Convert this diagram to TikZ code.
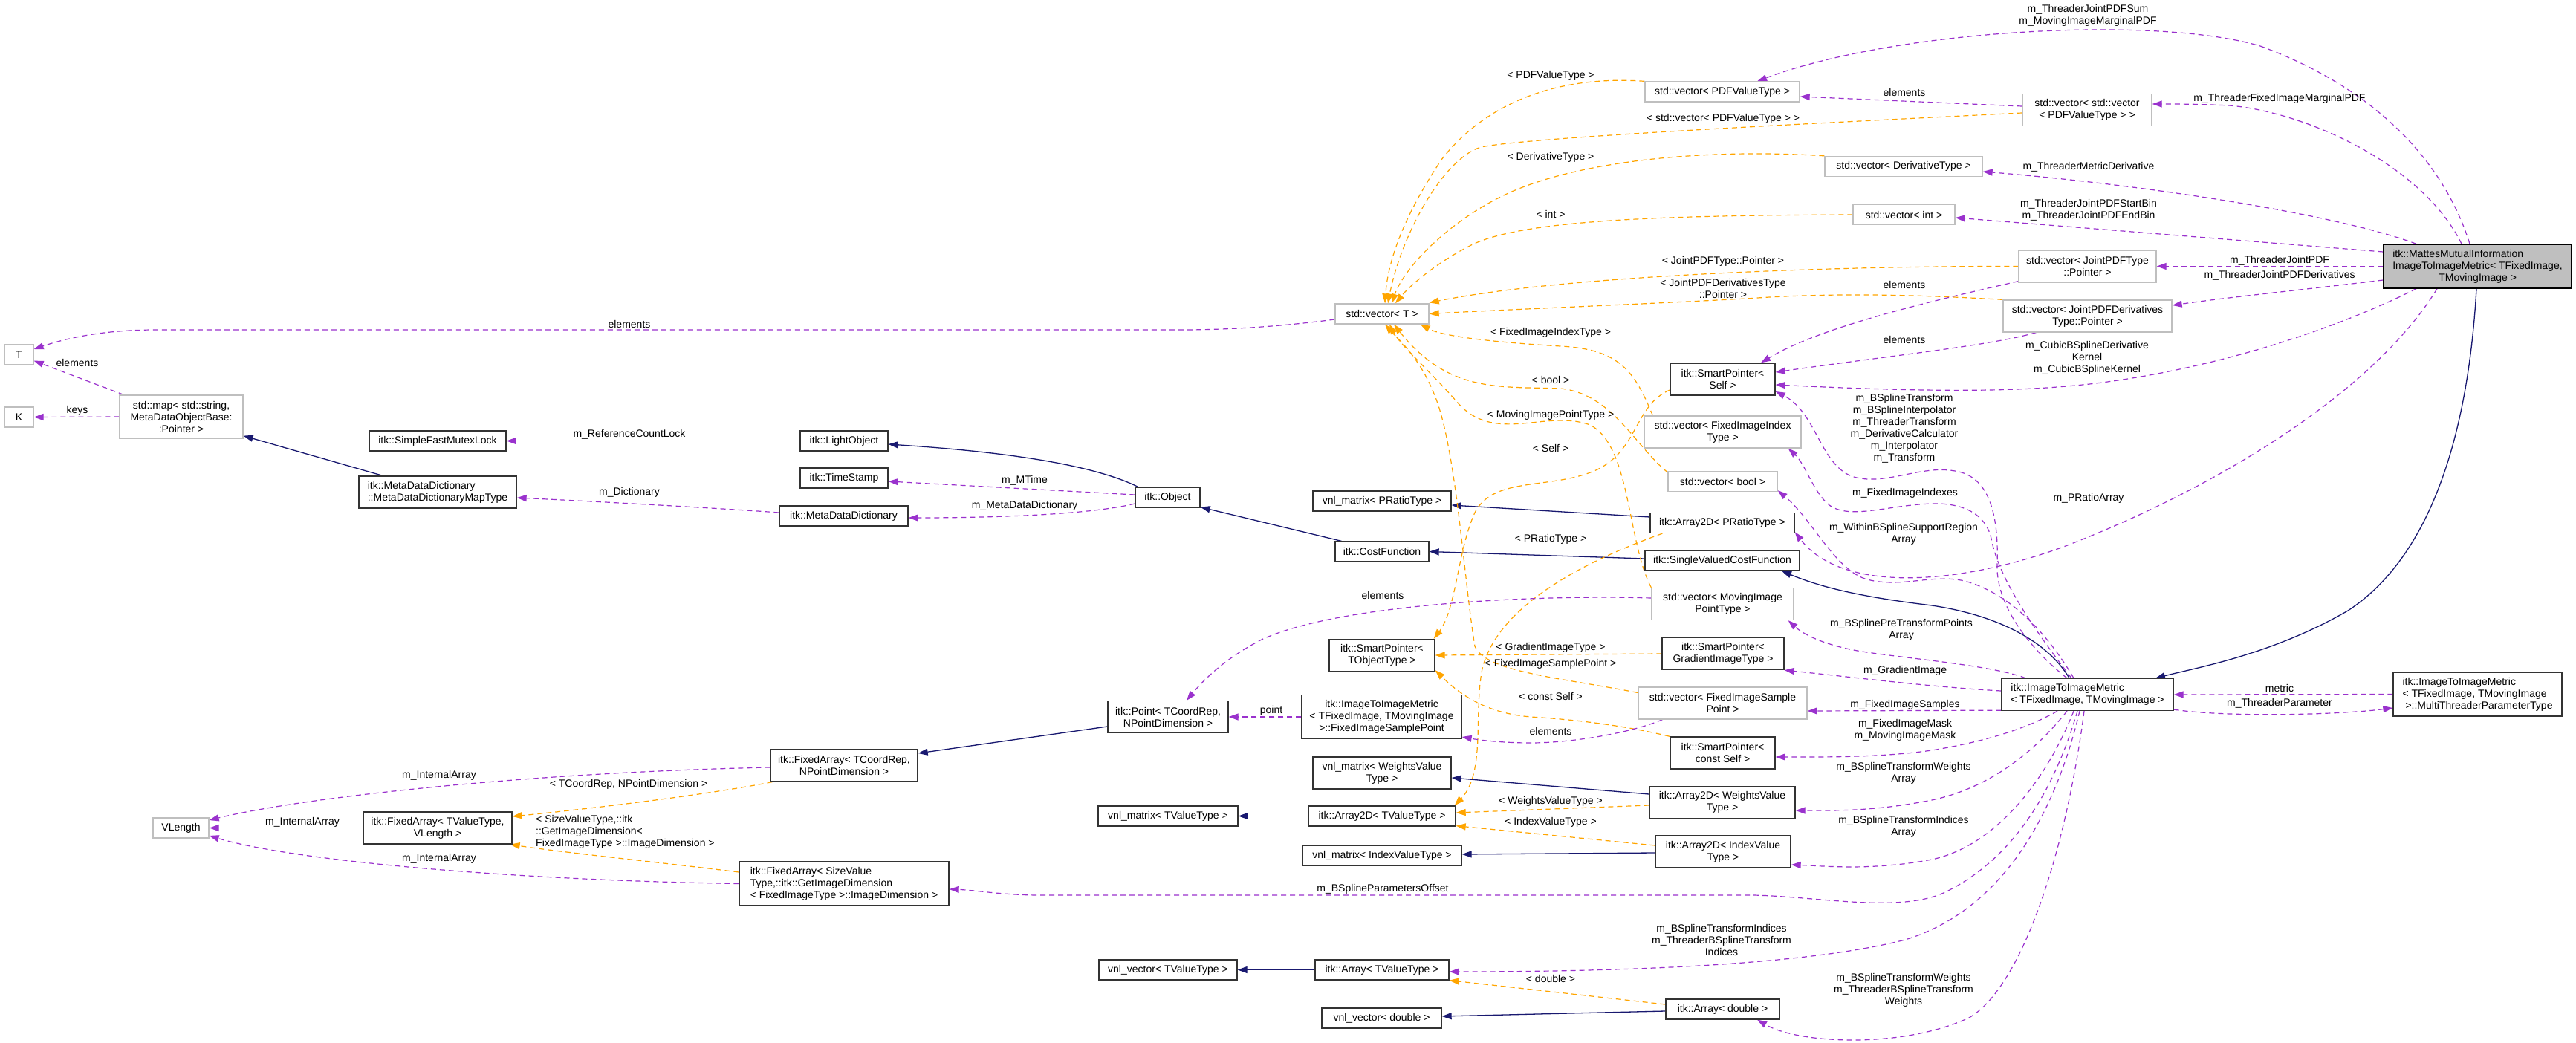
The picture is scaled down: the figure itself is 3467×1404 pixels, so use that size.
\documentclass[tikz,border=0pt]{standalone}
\usepackage{fontspec}
\setmainfont{Liberation Sans}
\usetikzlibrary{arrows.meta}
\definecolor{usec}{HTML}{9A32CD}
\definecolor{tmplc}{HTML}{FFA500}
\definecolor{inhc}{HTML}{191970}
\definecolor{ubord}{HTML}{BFBFBF}
\definecolor{hilite}{HTML}{BFBFBF}
\pgfdeclarelayer{bg}
\pgfsetlayers{bg,main}
\tikzset{
  box/.style={draw=black!80, line width=1.3pt, fill=white, inner sep=2pt, align=center, text=black},
  ubox/.style={box, draw=ubord},
  lbl/.style={inner sep=0pt, align=center, text=black},
  uses/.style={draw=usec, line width=1.2pt, dash pattern=on 7pt off 5pt, -{Triangle[length=13pt,width=9pt]}},
  tmpl/.style={draw=tmplc, line width=1.2pt, dash pattern=on 7pt off 5pt, -{Triangle[length=13pt,width=9pt]}},
  inh/.style={draw=inhc, line width=1.3pt, -{Triangle[length=13pt,width=9pt]}},
}
\begin{document}
\begin{tikzpicture}[x=1pt,y=-1pt,font=\fontsize{14pt}{16pt}\selectfont]
\begin{pgfonlayer}{bg}
\fill[white] (0,0) rectangle (3467,1404);
\end{pgfonlayer}
\useasboundingbox (0,0) rectangle (3467,1404);

% ---------- nodes ----------
\node[ubox, minimum width=39pt, minimum height=27pt] (T) at (25.5,477.5) {T};
\node[ubox, minimum width=39pt, minimum height=27pt] (K) at (25.5,561.5) {K};
\node[ubox, minimum width=166pt, minimum height=58pt] (map) at (244,561) {std::map< std::string,\\MetaDataObjectBase:\\:Pointer >};
\node[box, minimum width=184pt, minimum height=27pt] (SFML) at (589,593.5) {itk::SimpleFastMutexLock};
\node[box, align=left, minimum width=212pt, minimum height=43pt] (MapType) at (589,662.5) {itk::MetaDataDictionary\\::MetaDataDictionaryMapType};
\node[ubox, minimum width=75pt, minimum height=27pt] (VLength) at (243.5,1114.5) {VLength};
\node[box, minimum width=200pt, minimum height=43pt] (FATV) at (589,1114.5) {itk::FixedArray< TValueType,\\VLength >};
\node[box, minimum width=198pt, minimum height=43pt] (FATC) at (1136,1030.5) {itk::FixedArray< TCoordRep,\\NPointDimension >};
\node[box, align=left, minimum width=282pt, minimum height=59pt] (FASV) at (1136,1189.5) {itk::FixedArray< SizeValue\\Type,::itk::GetImageDimension\\< FixedImageType >::ImageDimension >};
\node[box, minimum width=118pt, minimum height=27pt] (LightObject) at (1136,593.5) {itk::LightObject};
\node[box, minimum width=118pt, minimum height=27pt] (TimeStamp) at (1136,643.5) {itk::TimeStamp};
\node[box, minimum width=173pt, minimum height=27pt] (MDD) at (1135.5,694.5) {itk::MetaDataDictionary};
\node[box, minimum width=87pt, minimum height=27pt] (Object) at (1571.5,669.5) {itk::Object};
\node[box, minimum width=126pt, minimum height=27pt] (CostFunction) at (1860,742.5) {itk::CostFunction};
\node[box, minimum width=186pt, minimum height=27pt] (vnlMP) at (1860,674.5) {vnl\_matrix< PRatioType >};
\node[box, minimum width=142pt, minimum height=43pt] (SPT) at (1860,882) {itk::SmartPointer<\\TObjectType >};
\node[box, minimum width=162pt, minimum height=43pt] (Point) at (1572,965) {itk::Point< TCoordRep,\\NPointDimension >};
\node[box, minimum width=215pt, minimum height=59pt] (FISP) at (1859.5,965) {itk::ImageToImageMetric\\< TFixedImage, TMovingImage\\>::FixedImageSamplePoint};
\node[box, minimum width=186pt, minimum height=43pt] (vnlMW) at (1860,1040.5) {vnl\_matrix< WeightsValue\\Type >};
\node[box, minimum width=188pt, minimum height=27pt] (vnlMT) at (1572,1098.5) {vnl\_matrix< TValueType >};
\node[box, minimum width=198pt, minimum height=27pt] (A2T) at (1860,1098.5) {itk::Array2D< TValueType >};
\node[box, minimum width=214pt, minimum height=27pt] (vnlMI) at (1860,1152) {vnl\_matrix< IndexValueType >};
\node[box, minimum width=186pt, minimum height=27pt] (vnlVT) at (1572,1305.5) {vnl\_vector< TValueType >};
\node[box, minimum width=180pt, minimum height=27pt] (AT) at (1860,1305.5) {itk::Array< TValueType >};
\node[box, minimum width=161pt, minimum height=27pt] (vnlVD) at (1859.5,1370.5) {vnl\_vector< double >};
\node[box, minimum width=153pt, minimum height=27pt] (AD) at (2318.5,1358.5) {itk::Array< double >};
\node[ubox, minimum width=126pt, minimum height=27pt] (vecT) at (1860,422.5) {std::vector< T >};
\node[ubox, minimum width=208pt, minimum height=27pt] (vPDF) at (2318,123.5) {std::vector< PDFValueType >};
\node[ubox, minimum width=212pt, minimum height=27pt] (vDer) at (2562,224) {std::vector< DerivativeType >};
\node[ubox, minimum width=137pt, minimum height=27pt] (vInt) at (2562.5,289) {std::vector< int >};
\node[ubox, minimum width=174pt, minimum height=43pt] (vvPDF) at (2809,148) {std::vector< std::vector\\< PDFValueType > >};
\node[ubox, minimum width=185pt, minimum height=43pt] (vJP) at (2809.5,358.5) {std::vector< JointPDFType\\::Pointer >};
\node[ubox, minimum width=227pt, minimum height=43pt] (vJPD) at (2809.5,425.5) {std::vector< JointPDFDerivatives\\Type::Pointer >};
\node[box, fill=hilite, draw=black, align=left, minimum width=253pt, minimum height=59pt] (Mattes) at (3334.5,358.5) {itk::MattesMutualInformation\\ImageToImageMetric< TFixedImage,\\\hspace*{62pt}TMovingImage >};
\node[box, minimum width=141pt, minimum height=43pt] (SPS) at (2318.5,510.5) {itk::SmartPointer<\\Self >};
\node[ubox, minimum width=211pt, minimum height=43pt] (vFII) at (2318.5,581.5) {std::vector< FixedImageIndex\\Type >};
\node[ubox, minimum width=147pt, minimum height=27pt] (vBool) at (2318.5,648) {std::vector< bool >};
\node[box, minimum width=194pt, minimum height=27pt] (A2P) at (2318,704) {itk::Array2D< PRatioType >};
\node[box, minimum width=208pt, minimum height=27pt] (SVCF) at (2318,754.5) {itk::SingleValuedCostFunction};
\node[ubox, minimum width=191pt, minimum height=43pt] (vMIP) at (2318.5,813) {std::vector< MovingImage\\PointType >};
\node[box, minimum width=164pt, minimum height=43pt] (SPG) at (2319,880) {itk::SmartPointer<\\GradientImageType >};
\node[ubox, minimum width=227pt, minimum height=43pt] (vFIS) at (2318.5,946.5) {std::vector< FixedImageSample\\Point >};
\node[box, minimum width=141pt, minimum height=43pt] (SPC) at (2318.5,1013.5) {itk::SmartPointer<\\const Self >};
\node[box, minimum width=196pt, minimum height=43pt] (A2W) at (2318,1080) {itk::Array2D< WeightsValue\\Type >};
\node[box, minimum width=182pt, minimum height=43pt] (A2I) at (2319,1146.5) {itk::Array2D< IndexValue\\Type >};
\node[box, align=left, minimum width=231pt, minimum height=43pt] (ITIM) at (2809.5,935) {itk::ImageToImageMetric\\< TFixedImage, TMovingImage >};
\node[box, align=left, minimum width=227pt, minimum height=59pt] (Multi) at (3334.5,934.5) {itk::ImageToImageMetric\\< TFixedImage, TMovingImage\\\hspace*{4pt}>::MultiThreaderParameterType};

% ---------- edges ----------
\begin{pgfonlayer}{bg}
% left part
\draw[uses] ([yshift=-7.5pt]vecT.west) .. controls (1720,440) and (1650,444) .. (1591,444) -- (210,444) .. controls (140,444) and (90,455) .. ([yshift=7.5pt]T.east);
\draw[uses] ([xshift=6pt]map.north west) -- ([yshift=6pt]T.south east);
\draw[uses] (map.west) -- (K.east);
\draw[inh] ([xshift=-74pt]MapType.north) -- ([yshift=4pt]map.south east);
\draw[uses] (LightObject.west) -- (SFML.east);
\draw[uses] ([yshift=4.5pt]MDD.west) .. controls (950,683) and (800,675) .. ([yshift=-7.5pt]MapType.east);
\draw[inh] ([xshift=-40pt]Object.north) .. controls (1470,625) and (1350,608) .. ([yshift=-4.5pt]LightObject.east);
\draw[uses] ([yshift=3.5pt]Object.west) -- ([yshift=-4.5pt]TimeStamp.east);
\draw[uses] ([yshift=-8.5pt]Object.west) .. controls (1470,692) and (1350,697) .. ([yshift=-2.5pt]MDD.east);
\draw[inh] ([xshift=9pt]CostFunction.north west) -- ([yshift=1pt]Object.south east);
\draw[inh] ([yshift=2.5pt]SVCF.west) -- (CostFunction.east);
\draw[inh] ([xshift=-24.5pt]ITIM.north) .. controls (2760,870) and (2700,830) .. (2600,815) .. controls (2500,803) and (2450,790) .. ([xshift=80pt]SVCF.south);
\draw[inh] ([xshift=-1.5pt]Mattes.south) .. controls (3318,650) and (3240,770) .. (3160,822) .. controls (3060,880) and (2960,898) .. ([xshift=91.5pt]ITIM.north);
\draw[inh] ([yshift=8pt]A2P.west) -- ([yshift=-5.5pt]vnlMP.east);
\draw[inh] ([yshift=11pt]A2W.west) -- ([yshift=-6.5pt]vnlMW.east);
\draw[inh] (A2T.west) -- (vnlMT.east);
\draw[inh] ([yshift=-1.5pt]A2I.west) -- ([yshift=2pt]vnlMI.east);
\draw[inh] (AT.west) -- (vnlVT.east);
\draw[inh] ([yshift=-2.5pt]AD.west) -- ([yshift=2.5pt]vnlVD.east);
\draw[inh] ([yshift=-13pt]Point.west) -- ([yshift=16.5pt]FATC.east);
% template instantiations
\draw[tmpl] ([xshift=3pt]FATC.south west) .. controls (950,1070) and (800,1088) .. ([yshift=15.5pt]FATV.east);
\draw[tmpl] ([yshift=15.5pt]FASV.west) .. controls (900,1162) and (760,1148) .. ([xshift=-3pt]FATV.south east);
\draw[tmpl] ([yshift=-14.5pt]SPS.west) .. controls (2200,545) and (2205,605) .. (2150,632) .. controls (2090,660) and (2010,640) .. (1985,690) .. controls (1962,740) and (1960,820) .. ([xshift=-2pt]SPT.north east);
\draw[tmpl] (SPG.west) -- (SPT.east);
\draw[tmpl] (SPC.north west) .. controls (2180,975) and (2110,968) .. (2060,965) .. controls (2000,960) and (1965,935) .. ([yshift=2pt]SPT.south east);
\draw[tmpl] ([xshift=17pt]A2P.south west) .. controls (2120,760) and (2015,820) .. (1995,900) .. controls (1983,960) and (2000,1040) .. ([xshift=-2pt]A2T.north east);
\draw[tmpl] ([yshift=-4pt]A2W.west) -- ([yshift=4.5pt]A2T.east);
\draw[tmpl] ([yshift=8.5pt]A2I.west) -- ([yshift=1pt]A2T.south east);
\draw[tmpl] ([yshift=6.5pt]AD.west) -- (AT.south east);
\draw[tmpl] (vPDF.north west) .. controls (2080,100) and (1990,150) .. (1940,215) .. controls (1890,290) and (1868,350) .. ([xshift=4pt]vecT.north);
\draw[tmpl] ([yshift=-4pt]vvPDF.west) .. controls (2400,168) and (2060,185) .. (1993,198) .. controls (1940,215) and (1885,320) .. ([xshift=8pt]vecT.north);
\draw[tmpl] (vDer.north west) .. controls (2300,200) and (2130,215) .. (2030,260) .. controls (1950,297) and (1890,360) .. ([xshift=13pt]vecT.north);
\draw[tmpl] (vInt.west) .. controls (2250,290) and (2050,295) .. (1980,330) .. controls (1925,358) and (1893,390) .. ([xshift=18pt]vecT.north);
\draw[tmpl] (vJP.west) .. controls (2450,358) and (2100,372) .. ([yshift=15pt]vecT.east);
\draw[tmpl] (vJPD.north west) .. controls (2550,395) and (2450,395) .. (2350,402) .. controls (2200,410) and (2000,418) .. (vecT.east);
\draw[tmpl] ([xshift=12pt]vFII.north west) .. controls (2200,500) and (2180,470) .. (2100,466) .. controls (2000,460) and (1940,452) .. ([xshift=-12pt]vecT.south east);
\draw[tmpl] ([yshift=-2pt]vBool.north west) .. controls (2200,600) and (2170,530) .. (2100,523) .. controls (2020,520) and (1950,530) .. ([xshift=16pt]vecT.south);
\draw[tmpl] (vMIP.north west) .. controls (2190,730) and (2195,600) .. (2140,572) .. controls (2080,550) and (2010,600) .. (1960,540) .. controls (1925,500) and (1885,465) .. ([xshift=10pt]vecT.south);
\draw[tmpl] ([yshift=14pt]vFIS.west) .. controls (2100,912) and (2000,905) .. (1985,870) .. controls (1970,780) and (1960,600) .. (1930,530) .. controls (1910,480) and (1880,455) .. ([xshift=4pt]vecT.south);
% usage from Mattes
\draw[uses] ([xshift=-10.5pt]Mattes.north) .. controls (3290,220) and (3200,120) .. (3042,62) .. controls (2900,20) and (2550,40) .. ([xshift=47pt]vPDF.north);
\draw[uses] ([xshift=-21.5pt]Mattes.north) .. controls (3260,220) and (3100,150) .. (3000,142) .. controls (2960,140) and (2930,140) .. ([yshift=8pt]vvPDF.east);
\draw[uses] ([xshift=-82.5pt]Mattes.north) .. controls (3150,290) and (2900,250) .. ([yshift=-7pt]vDer.east);
\draw[uses] ([yshift=19.5pt]Mattes.west) -- ([yshift=-4pt]vInt.east);
\draw[uses] (Mattes.west) -- (vJP.east);
\draw[uses] ([yshift=-18.5pt]Mattes.west) .. controls (3100,390) and (3000,400) .. ([yshift=14.5pt]vJPD.east);
\draw[uses] ([yshift=5pt]vvPDF.west) -- ([yshift=-6.5pt]vPDF.east);
\draw[uses] ([yshift=2pt]vJP.south west) .. controls (2600,405) and (2450,440) .. ([xshift=51.5pt]SPS.north);
\draw[uses] ([xshift=45pt]vJPD.south west) .. controls (2680,465) and (2550,478) .. ([yshift=9.5pt]SPS.east);
\draw[uses] ([xshift=-82.5pt]Mattes.south) .. controls (3150,440) and (2990,495) .. (2821,516) .. controls (2720,528) and (2600,528) .. ([yshift=-7.5pt]SPS.east);
\draw[uses] ([xshift=-54.5pt]Mattes.south) .. controls (3200,520) and (3000,650) .. (2780,735) .. controls (2640,787) and (2480,800) .. ([yshift=2pt]A2P.south east);
% usage from ImageToImageMetric
\draw[uses] ([xshift=-27.5pt]ITIM.north) .. controls (2740,880) and (2686,820) .. (2688,760) .. controls (2690,700) and (2680,648) .. (2640,636) .. controls (2590,622) and (2540,655) .. (2495,642) .. controls (2450,628) and (2445,555) .. ([yshift=-16.5pt]SPS.east);
\draw[uses] ([xshift=-21.5pt]ITIM.north) .. controls (2740,850) and (2690,780) .. (2680,725) .. controls (2672,690) and (2640,677) .. (2600,678) .. controls (2540,680) and (2490,700) .. (2462,680) .. controls (2440,662) and (2430,625) .. ([xshift=-18pt]vFII.south east);
\draw[uses] ([xshift=-18.5pt]ITIM.north) .. controls (2760,860) and (2710,800) .. (2644,782) .. controls (2600,772) and (2560,792) .. (2513,780) .. controls (2470,768) and (2440,700) .. ([yshift=2pt]vBool.south east);
\draw[uses] ([xshift=33pt]ITIM.north west) .. controls (2680,895) and (2560,886) .. (2500,876) .. controls (2450,867) and (2425,852) .. ([xshift=-8pt]vMIP.south east);
\draw[uses] ([yshift=5pt]ITIM.west) .. controls (2600,925) and (2480,910) .. (SPG.south east);
\draw[uses] ([yshift=1pt]ITIM.south west) -- ([yshift=-10.5pt]vFIS.east);
\draw[uses] ([xshift=-40.5pt]ITIM.south) .. controls (2720,985) and (2660,1000) .. (2600,1010) .. controls (2530,1020) and (2450,1019) .. ([yshift=-5.5pt]SPC.east);
\draw[uses] ([xshift=-27.5pt]ITIM.south) .. controls (2740,1010) and (2680,1060) .. (2600,1077) .. controls (2520,1093) and (2460,1091) .. ([yshift=-11pt]A2W.east);
\draw[uses] ([xshift=-18.5pt]ITIM.south) .. controls (2750,1060) and (2680,1140) .. (2600,1157) .. controls (2520,1172) and (2460,1166) .. ([yshift=-17.5pt]A2I.east);
\draw[uses] ([xshift=-13.5pt]ITIM.south) .. controls (2760,1080) and (2700,1160) .. (2620,1200) .. controls (2560,1230) and (2450,1207) .. (2360,1205) -- (1400,1205) .. controls (1350,1205) and (1310,1198) .. ([yshift=-7.5pt]FASV.east);
\draw[uses] ([xshift=-10.5pt]ITIM.south) .. controls (2760,1120) and (2680,1230) .. (2564,1265) .. controls (2420,1302) and (2150,1308) .. ([yshift=-2.5pt]AT.east);
\draw[uses] ([xshift=-4.5pt]ITIM.south) .. controls (2780,1150) and (2720,1330) .. (2650,1370) .. controls (2560,1412) and (2420,1405) .. ([xshift=46.5pt]AD.south);
\draw[uses] ([yshift=2pt]ITIM.south east) .. controls (3000,966) and (3150,962) .. ([yshift=-18.5pt]Multi.west);
\draw[uses] (Multi.west) -- (ITIM.east);
% others
\draw[uses] ([yshift=8pt]vMIP.west) .. controls (2050,800) and (1800,815) .. (1700,860) .. controls (1650,885) and (1620,915) .. ([xshift=25pt]Point.north);
\draw[uses] (FISP.west) -- (Point.east);
\draw[uses] ([xshift=33pt]vFIS.south west) .. controls (2200,985) and (2120,1000) .. (2060,1000) .. controls (2020,1000) and (1990,996) .. ([yshift=-27pt]FISP.east);
\draw[uses] ([yshift=-2.5pt]FATC.west) .. controls (700,1040) and (400,1075) .. ([yshift=10.5pt]VLength.east);
\draw[uses] (FATV.west) -- (VLength.east);
\draw[uses] (FASV.west) .. controls (700,1185) and (400,1160) .. ([yshift=-10.5pt]VLength.east);
\end{pgfonlayer}

% ---------- labels ----------
\node[lbl] (l1) at (847,436) {elements};
\node[lbl] (l2) at (104,488) {elements};
\node[lbl] (l3) at (104,553) {keys};
\node[lbl] (l4) at (847,585) {m\_ReferenceCountLock};
\node[lbl] (l5) at (847,663) {m\_Dictionary};
\node[lbl] (l6) at (1379,647) {m\_MTime};
\node[lbl] (l7) at (1379,681) {m\_MetaDataDictionary};
\node[lbl] (l8) at (591,1044) {m\_InternalArray};
\node[lbl] (l9) at (407,1107) {m\_InternalArray};
\node[lbl] (l10) at (591,1156) {m\_InternalArray};
\node[lbl] (l11) at (846,1056) {< TCoordRep, NPointDimension >};
\node[lbl, align=left, anchor=west] (l12) at (721,1120) {< SizeValueType,::itk\\::GetImageDimension<\\FixedImageType >::ImageDimension >};
\node[lbl] (l13) at (2087,102) {< PDFValueType >};
\node[lbl] (l14) at (2319,160) {< std::vector< PDFValueType > >};
\node[lbl] (l15) at (2087,212) {< DerivativeType >};
\node[lbl] (l16) at (2087,288) {< int >};
\node[lbl] (l17) at (2319,352) {< JointPDFType::Pointer >};
\node[lbl] (l18) at (2319,388) {< JointPDFDerivativesType\\::Pointer >};
\node[lbl] (l19) at (2087,448) {< FixedImageIndexType >};
\node[lbl] (l20) at (2087,511) {< bool >};
\node[lbl] (l21) at (2087,559) {< MovingImagePointType >};
\node[lbl] (l22) at (2087,603) {< Self >};
\node[lbl] (l23) at (2087,726) {< PRatioType >};
\node[lbl] (l24) at (2087,872) {< GradientImageType >};
\node[lbl] (l25) at (2087,894) {< FixedImageSamplePoint >};
\node[lbl] (l26) at (2087,937) {< const Self >};
\node[lbl] (l27) at (2087,984) {elements};
\node[lbl] (l28) at (2087,1079) {< WeightsValueType >};
\node[lbl] (l29) at (2087,1107) {< IndexValueType >};
\node[lbl] (l30) at (2087,1317) {< double >};
\node[lbl] (l31) at (1861,801) {elements};
\node[lbl] (l32) at (1711,957) {point};
\node[lbl] (l33) at (2563,124) {elements};
\node[lbl] (l34) at (2563,383) {elements};
\node[lbl] (l35) at (2563,457) {elements};
\node[lbl] (l36) at (2810,21) {m\_ThreaderJointPDFSum\\m\_MovingImageMarginalPDF};
\node[lbl] (l37) at (3068,133) {m\_ThreaderFixedImageMarginalPDF};
\node[lbl] (l38) at (2811,225) {m\_ThreaderMetricDerivative};
\node[lbl] (l39) at (2811,283) {m\_ThreaderJointPDFStartBin\\m\_ThreaderJointPDFEndBin};
\node[lbl] (l40) at (3068,351) {m\_ThreaderJointPDF};
\node[lbl] (l41) at (3068,371) {m\_ThreaderJointPDFDerivatives};
\node[lbl] (l42) at (2809,482) {m\_CubicBSplineDerivative\\Kernel\\m\_CubicBSplineKernel};
\node[lbl] (l43) at (2811,671) {m\_PRatioArray};
\node[lbl] (l44) at (2563,577) {m\_BSplineTransform\\m\_BSplineInterpolator\\m\_ThreaderTransform\\m\_DerivativeCalculator\\m\_Interpolator\\m\_Transform};
\node[lbl] (l45) at (2564,664) {m\_FixedImageIndexes};
\node[lbl] (l46) at (2562,719) {m\_WithinBSplineSupportRegion\\Array};
\node[lbl] (l47) at (2559,848) {m\_BSplinePreTransformPoints\\Array};
\node[lbl] (l48) at (2564,903) {m\_GradientImage};
\node[lbl] (l49) at (2564,949) {m\_FixedImageSamples};
\node[lbl] (l50) at (2564,983) {m\_FixedImageMask\\m\_MovingImageMask};
\node[lbl] (l51) at (2562,1041) {m\_BSplineTransformWeights\\Array};
\node[lbl] (l52) at (2562,1113) {m\_BSplineTransformIndices\\Array};
\node[lbl] (l53) at (1861,1197) {m\_BSplineParametersOffset};
\node[lbl] (l54) at (2317,1265) {m\_BSplineTransformIndices\\m\_ThreaderBSplineTransform\\Indices};
\node[lbl] (l55) at (2562,1333) {m\_BSplineTransformWeights\\m\_ThreaderBSplineTransform\\Weights};
\node[lbl] (l56) at (3068,926) {metric};
\node[lbl] (l57) at (3068,947) {m\_ThreaderParameter};
\end{tikzpicture}
\end{document}
